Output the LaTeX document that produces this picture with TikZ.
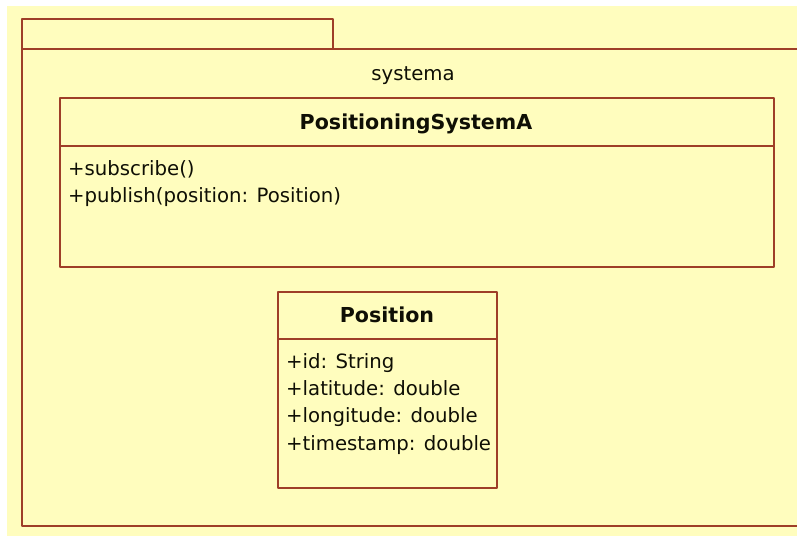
\documentclass[tikz,border=0pt]{standalone}
\usepackage{fontspec}
\setmainfont{DejaVu Sans}
\definecolor{umlbg}{RGB}{255,253,190}
\definecolor{umlline}{RGB}{158,62,40}
\definecolor{umltext}{RGB}{15,15,5}
\begin{document}
\begin{tikzpicture}[x=1pt,y=-1pt,
  border/.style={draw=umlline,line width=2.6pt,line join=round},
  lbl/.style={inner sep=0pt,text=umltext,font=\fontsize{19.7}{22}\selectfont,anchor=base west},
  ttl/.style={inner sep=0pt,text=umltext,font=\fontsize{20.6}{24}\selectfont\bfseries,anchor=base}]
\useasboundingbox (0,0) rectangle (797,536);
\fill[white] (0,0) rectangle (797,536);
\fill[umlbg] (7,6) rectangle (797,536);
% package
\draw[border] (22,49) -- (22,19) -- (333,19) -- (333,49);
\draw[border] (800,49) -- (22,49) -- (22,526) -- (800,526);
\node[inner sep=0pt,text=umltext,font=\fontsize{19.7}{22}\selectfont,anchor=base] (pkg) at (413,80) {systema};
% PositioningSystemA
\draw[border] (60,98) rectangle (774,267);
\draw[border] (60,146) -- (774,146);
\node[ttl] (psa) at (416,129) {PositioningSystemA};
\node[lbl] (m1) at (68,175) {+subscribe()};
\node[lbl] (m2) at (68,202) {+publish(position: Position)};
% Position
\draw[border] (278,292) rectangle (497,488);
\draw[border] (278,339) -- (497,339);
\node[ttl] (pos) at (387,322) {Position};
\node[lbl] (a1) at (286,368) {+id: String};
\node[lbl] (a2) at (286,395) {+latitude: double};
\node[lbl] (a3) at (286,422) {+longitude: double};
\node[lbl] (a4) at (286,450) {+timestamp: double};
\end{tikzpicture}
\end{document}
